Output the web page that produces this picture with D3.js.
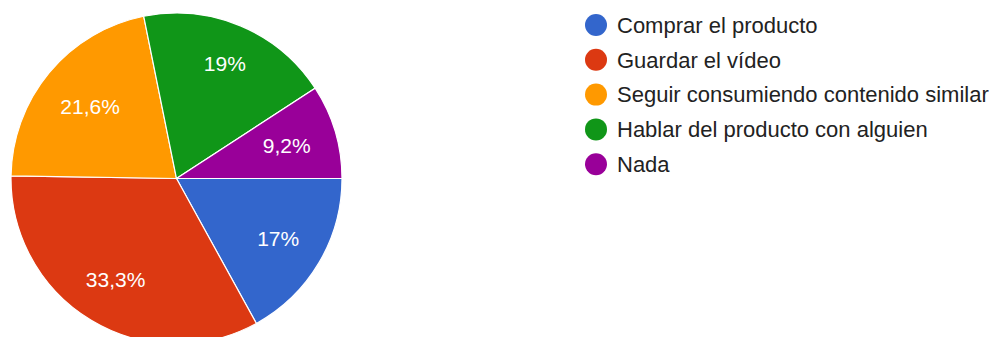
<!DOCTYPE html>
<html>
<head>
<meta charset="utf-8">
<script src="https://cdn.jsdelivr.net/npm/d3@7"></script>
<style>
  html, body { margin: 0; padding: 0; background: #fff; }
  svg { display: block; }
</style>
</head>
<body>
<svg id="chart" width="992" height="337"></svg>
<script>
// Responses and their shares (percent)
const categories = [
  "Comprar el producto",
  "Guardar el vídeo",
  "Seguir consumiendo contenido similar",
  "Hablar del producto con alguien",
  "Nada"
];
const values = [17, 33.3, 21.6, 19, 9.2];
const valueLabels = ["17%", "33,3%", "21,6%", "19%", "9,2%"];
const colors = ["#3366cc", "#dc3912", "#ff9900", "#109618", "#990099"];

const svg = d3.select("#chart");
const font = "'Liberation Sans', Arial, sans-serif";

const cx = 176.5, cy = 178.5, radius = 165.5;
const labelFont = 21;
const labelCapHeight = 15;
// the outer edge of each label's box sits on this radius
const labelEdgeRadius = 140;

const color = d3.scaleOrdinal().domain(categories).range(colors);

// Slices run clockwise from 3 o'clock
const pie = d3.pie()
  .sort(null)
  .value(d => d.value)
  .startAngle(Math.PI / 2)
  .endAngle(Math.PI / 2 + 2 * Math.PI);

const data = categories.map((c, i) => ({ name: c, value: values[i], label: valueLabels[i] }));
const arcs = pie(data);

const arc = d3.arc().innerRadius(0).outerRadius(radius);

const g = svg.append("g").attr("transform", `translate(${cx},${cy})`);

g.selectAll("path.slice")
  .data(arcs)
  .join("path")
  .attr("class", "slice")
  .attr("d", arc)
  .attr("fill", d => color(d.data.name))
  .attr("stroke", "#ffffff")
  .attr("stroke-width", 1.2);

const labels = g.selectAll("text.value")
  .data(arcs)
  .join("text")
  .attr("class", "value")
  .attr("text-anchor", "middle")
  .attr("font-family", font)
  .attr("font-size", labelFont)
  .attr("fill", "#ffffff")
  .text(d => d.data.label);

// Pull each label inward so its box stays inside the slice
labels.each(function(d) {
  const w = this.getComputedTextLength();
  const a = (d.startAngle + d.endAngle) / 2;
  const s = Math.sin(a), c = Math.cos(a);
  const half = Math.abs(s) * w / 2 + Math.abs(c) * labelCapHeight / 2;
  const r = labelEdgeRadius - half;
  const x = r * s, y = -r * c;
  d3.select(this).attr("transform", `translate(${x},${y + labelCapHeight / 2})`);
});

// Legend
const legend = svg.append("g").attr("transform", "translate(596,25)");
const rowStep = 34.8;

const rows = legend.selectAll("g.row")
  .data(data)
  .join("g")
  .attr("class", "row")
  .attr("transform", (d, i) => `translate(0,${i * rowStep})`);

rows.append("circle")
  .attr("r", 11)
  .attr("fill", d => color(d.name));

rows.append("text")
  .attr("x", 21)
  .attr("y", 7.8)
  .attr("font-family", font)
  .attr("font-size", 22)
  .attr("fill", "#222222")
  .text(d => d.name);
</script>
</body>
</html>
